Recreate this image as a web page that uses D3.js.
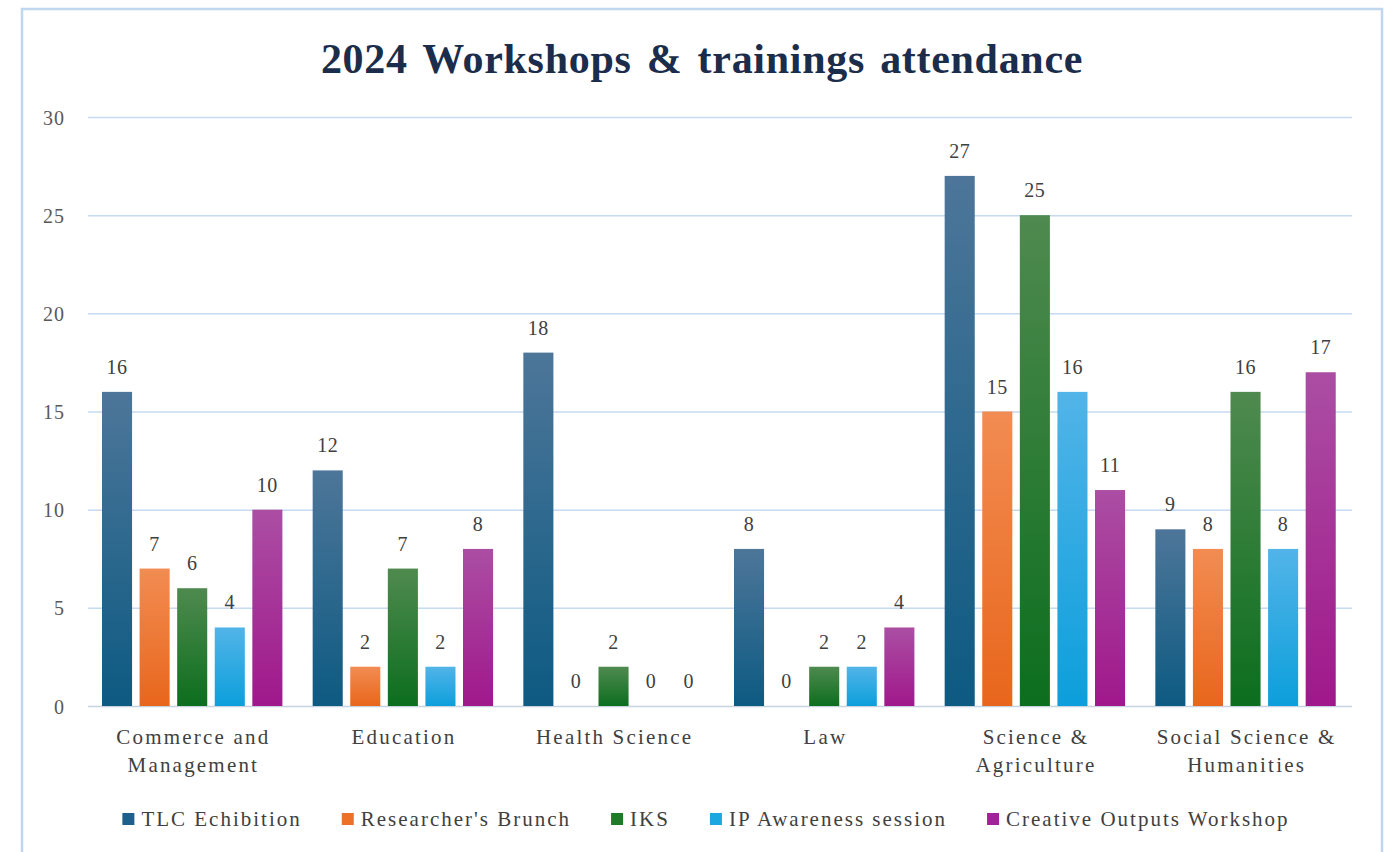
<!DOCTYPE html>
<html>
<head>
<meta charset="utf-8">
<script src="https://cdn.jsdelivr.net/npm/d3@7"></script>
<style>
  body { margin: 0; background: #ffffff; }
  text { font-family: "Liberation Serif", "Times New Roman", serif; }
</style>
</head>
<body>
<script>
// chart data
var categories = [["Commerce and", "Management"], ["Education"], ["Health Science"], ["Law"], ["Science &", "Agriculture"], ["Social Science &", "Humanities"]];
var seriesNames = ["TLC Echibition", "Researcher's Brunch", "IKS", "IP Awareness session", "Creative Outputs Workshop"];
var tlc = [16, 12, 18, 8, 27, 9];
var brunch = [7, 2, 0, 0, 15, 8];
var iks = [6, 7, 2, 2, 25, 16];
var ipAware = [4, 2, 0, 2, 16, 8];
var creative = [10, 8, 0, 4, 11, 17];
var yTicks = [0, 5, 10, 15, 20, 25, 30];

var seriesValues = [tlc, brunch, iks, ipAware, creative];
// [top, bottom, legend]
var colors = [
    ["#4d7699", "#0d5a82", "#1f5f8b"],
    ["#f28c52", "#e8661c", "#ed7227"],
    ["#4f8a4f", "#0c6e1e", "#1e7b2a"],
    ["#52b4e8", "#0c9fdb", "#1ca7e0"],
    ["#ab4ea3", "#a0188b", "#a3219a"]
];

var w = 1397, h = 852;
var margin = {left: 88, right: 45, top: 117, bottom: 146};

var svg = d3.select("body").append("svg")
    .attr("width", w)
    .attr("height", h);

//outer frame
svg.append("rect")
    .attr("x", 22).attr("y", 9)
    .attr("width", 1360).attr("height", 860)
    .attr("fill", "#fff")
    .attr("stroke", "#bfd6ee")
    .attr("stroke-width", 2.5);

var defs = svg.append("defs");
colors.forEach(function(c, i){
    var g = defs.append("linearGradient")
        .attr("id", "grad" + i)
        .attr("x1", 0).attr("y1", 0).attr("x2", 0).attr("y2", 1);
    g.append("stop").attr("offset", "0%").attr("stop-color", c[0]);
    g.append("stop").attr("offset", "100%").attr("stop-color", c[1]);
});

svg.append("text")
    .attr("x", 702)
    .attr("y", 73)
    .attr("text-anchor", "middle")
    .attr("font-size", 42)
    .attr("font-weight", "bold")
    .attr("letter-spacing", 0.7)
    .attr("word-spacing", 4)
    .attr("fill", "#1b2d4b")
    .text("2024 Workshops & trainings attendance");

var x0 = d3.scaleBand()
    .domain(d3.range(categories.length))
    .range([margin.left, w - margin.right]);

var x1 = d3.scaleBand()
    .domain(d3.range(seriesNames.length))
    .range([14, 194.4])
    .paddingInner(0.2);

var y = d3.scaleLinear()
    .domain([0, 30])
    .range([h - margin.bottom, margin.top]);

//gridlines
var grid = svg.append("g")
    .attr("transform", "translate(" + margin.left + ",0)")
    .call(d3.axisLeft(y).tickValues(yTicks).tickSize(-(w - margin.left - margin.right)).tickFormat("").tickSizeOuter(0));
grid.select(".domain").remove();
grid.selectAll("line").attr("stroke", "#c6daf1").attr("stroke-width", 1.5);
grid.selectAll("g.tick").filter(function(d){ return d === 0; }).select("line").attr("stroke", "#c8d3e0");

var yAxis = svg.append("g")
    .attr("transform", "translate(" + margin.left + ",0)")
    .call(d3.axisLeft(y).tickValues(yTicks).tickSize(0).tickPadding(23));
yAxis.select(".domain").remove();
yAxis.selectAll("text")
    .attr("font-size", 20)
    .attr("letter-spacing", 1)
    .attr("fill", "#595959")
    .attr("dy", "0.35em")
    .style("font-family", "Liberation Serif, serif");

//bars
var groups = svg.selectAll(".group")
    .data(categories)
    .enter()
    .append("g")
    .attr("class", "group")
    .attr("transform", function(d, i){ return "translate(" + x0(i) + ",0)"; });

groups.each(function(cat, ci){
    var g = d3.select(this);
    var vals = seriesValues.map(function(s, si){ return {s: si, v: s[ci]}; });
    g.selectAll("rect")
        .data(vals)
        .enter()
        .append("rect")
        .attr("x", function(d){ return x1(d.s); })
        .attr("y", function(d){ return y(d.v); })
        .attr("width", x1.bandwidth())
        .attr("height", function(d){ return y(0) - y(d.v); })
        .attr("fill", function(d){ return "url(#grad" + d.s + ")"; });
    g.selectAll("text.val")
        .data(vals)
        .enter()
        .append("text")
        .attr("class", "val")
        .attr("x", function(d){ return x1(d.s) + x1.bandwidth() / 2; })
        .attr("y", function(d){ return y(d.v) - 18; })
        .attr("text-anchor", "middle")
        .attr("font-size", 20)
        .attr("letter-spacing", 0.5)
        .attr("fill", "#404040")
        .text(function(d){ return d.v; });
    var lbl = g.append("text")
        .attr("text-anchor", "middle")
        .attr("font-size", 21)
        .attr("letter-spacing", 2.2)
        .attr("fill", "#404040");
    cat.forEach(function(line, li){
        lbl.append("tspan")
            .attr("x", x0.bandwidth() / 2)
            .attr("y", 744 + li * 28)
            .text(line);
    });
});

//legend
var legend = svg.append("g");
var items = legend.selectAll("g")
    .data(seriesNames)
    .enter()
    .append("g");
items.append("rect")
    .attr("width", 12).attr("height", 12)
    .attr("y", 813)
    .attr("fill", function(d, i){ return colors[i][2]; });
items.append("text")
    .attr("x", 19)
    .attr("y", 826)
    .attr("font-size", 21)
    .attr("letter-spacing", 2)
    .attr("fill", "#404040")
    .text(function(d){ return d; });
var pos = 0, offsets = [];
items.each(function(){
    offsets.push(pos);
    pos += 19 + d3.select(this).select("text").node().getComputedTextLength() + 40;
});
var total = pos - 40;
var start = 706 - total / 2;
items.attr("transform", function(d, i){ return "translate(" + (start + offsets[i]) + ",0)"; });
</script>
</body>
</html>
